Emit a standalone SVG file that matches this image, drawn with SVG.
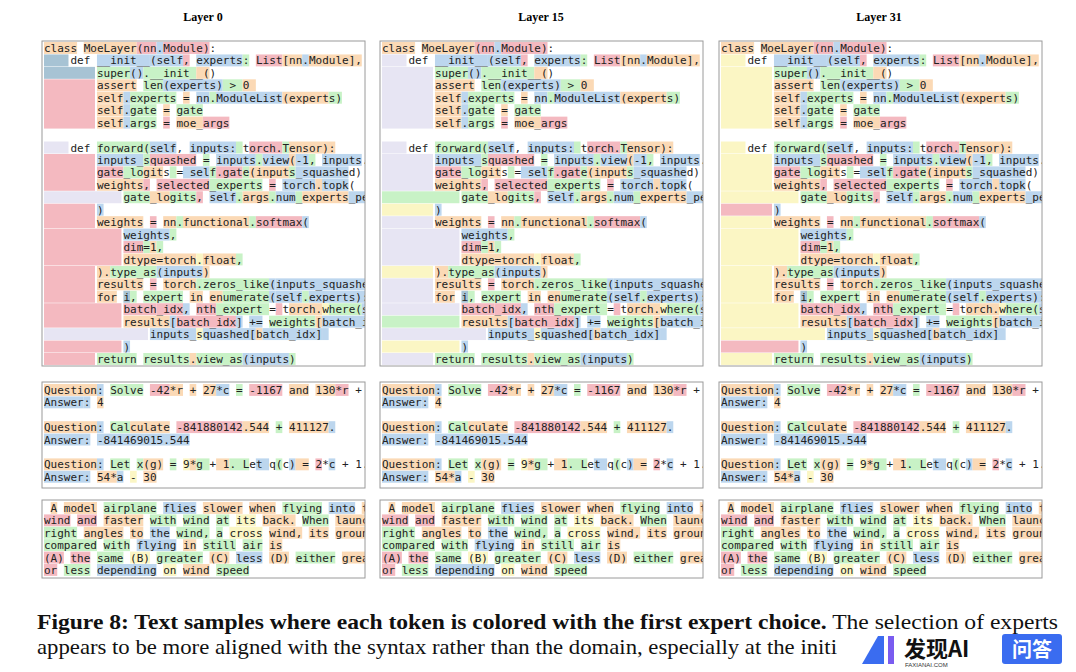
<svg xmlns="http://www.w3.org/2000/svg" width="1076" height="672" viewBox="0 0 1076 672">
<style>
.p{fill:#f4b9c0}.o{fill:#fbd9b5}.g{fill:#c8f2c6}.b{fill:#bcd6ee}.d{fill:#a7c3d4}.y{fill:#fbf6c4}.l{fill:#e7e5f3}
.t{font-family:"DejaVu Sans Mono",monospace;font-size:11px;fill:#222;white-space:pre}
.box{fill:none;stroke:#9a9a9a;stroke-width:1}
.ttl{font-family:"Liberation Serif",serif;font-weight:bold;font-size:12px;fill:#000;text-anchor:middle}
.cap{font-family:"Liberation Serif",serif;font-size:21px;fill:#111}
</style>
<defs>
<clipPath id="clip" clipPathUnits="userSpaceOnUse">
<rect x="0" y="41" width="323" height="325"/><rect x="0" y="382" width="323" height="106"/><rect x="0" y="500" width="323" height="78"/>
</clipPath>
<g id="code">
<g transform="translate(2,42) scale(6.62,12.44)">
<rect class="o" x="0" y="0" width="5" height=".96"/><rect class="o" x="6" y="0" width="8" height=".96"/><rect class="p" x="14" y="0" width="3" height=".96"/><rect class="b" x="17" y="0" width="1" height=".96"/><rect class="p" x="18" y="0" width="7" height=".96"/>
<rect class="b" x="8" y="1" width="8" height=".96"/><rect class="b" x="16" y="1" width="5" height=".96"/><rect class="p" x="21" y="1" width="1" height=".96"/><rect class="b" x="23" y="1" width="7" height=".96"/><rect class="g" x="30" y="1" width="1" height=".96"/><rect class="p" x="32" y="1" width="4" height=".96"/><rect class="o" x="36" y="1" width="3" height=".96"/><rect class="b" x="39" y="1" width="1" height=".96"/><rect class="o" x="40" y="1" width="8" height=".96"/>
<rect class="g" x="8" y="2" width="5" height=".96"/><rect class="b" x="13" y="2" width="2" height=".96"/><rect class="g" x="15" y="2" width="8" height=".96"/><rect class="o" x="23" y="2" width="2" height=".96"/>
<rect class="o" x="8" y="3" width="6" height=".96"/><rect class="g" x="15" y="3" width="3" height=".96"/><rect class="b" x="18" y="3" width="9" height=".96"/><rect class="g" x="27" y="3" width="3" height=".96"/><rect class="o" x="30" y="3" width="2" height=".96"/>
<rect class="o" x="8" y="4" width="4" height=".96"/><rect class="b" x="12" y="4" width="1" height=".96"/><rect class="g" x="13" y="4" width="7" height=".96"/><rect class="o" x="21" y="4" width="1" height=".96"/><rect class="b" x="23" y="4" width="2" height=".96"/><rect class="g" x="25" y="4" width="1" height=".96"/><rect class="b" x="26" y="4" width="10" height=".96"/><rect class="o" x="36" y="4" width="7" height=".96"/><rect class="g" x="43" y="4" width="2" height=".96"/>
<rect class="o" x="8" y="5" width="4" height=".96"/><rect class="b" x="12" y="5" width="1" height=".96"/><rect class="g" x="13" y="5" width="4" height=".96"/><rect class="o" x="18" y="5" width="1" height=".96"/><rect class="g" x="20" y="5" width="4" height=".96"/>
<rect class="o" x="8" y="6" width="4" height=".96"/><rect class="b" x="12" y="6" width="1" height=".96"/><rect class="g" x="13" y="6" width="4" height=".96"/><rect class="p" x="18" y="6" width="1" height=".96"/><rect class="o" x="20" y="6" width="4" height=".96"/><rect class="p" x="24" y="6" width="4" height=".96"/>
<rect class="g" x="8" y="8" width="8" height=".96"/><rect class="b" x="16" y="8" width="4" height=".96"/><rect class="b" x="22" y="8" width="7" height=".96"/><rect class="g" x="29" y="8" width="1" height=".96"/><rect class="p" x="31" y="8" width="5" height=".96"/><rect class="g" x="36" y="8" width="1" height=".96"/><rect class="o" x="37" y="8" width="7" height=".96"/>
<rect class="b" x="8" y="9" width="7" height=".96"/><rect class="g" x="15" y="9" width="1" height=".96"/><rect class="p" x="16" y="9" width="7" height=".96"/><rect class="g" x="24" y="9" width="1" height=".96"/><rect class="b" x="26" y="9" width="6" height=".96"/><rect class="g" x="32" y="9" width="1" height=".96"/><rect class="b" x="33" y="9" width="4" height=".96"/><rect class="o" x="37" y="9" width="1" height=".96"/><rect class="b" x="38" y="9" width="2" height=".96"/><rect class="g" x="40" y="9" width="1" height=".96"/><rect class="b" x="42" y="9" width="6" height=".96"/>
<rect class="p" x="8" y="10" width="4" height=".96"/><rect class="g" x="12" y="10" width="3" height=".96"/><rect class="o" x="15" y="10" width="3" height=".96"/><rect class="g" x="19" y="10" width="1" height=".96"/><rect class="b" x="21" y="10" width="4" height=".96"/><rect class="g" x="25" y="10" width="1" height=".96"/><rect class="p" x="26" y="10" width="4" height=".96"/><rect class="g" x="30" y="10" width="1" height=".96"/><rect class="o" x="31" y="10" width="6" height=".96"/><rect class="g" x="37" y="10" width="1" height=".96"/><rect class="b" x="38" y="10" width="8" height=".96"/>
<rect class="o" x="8" y="11" width="7" height=".96"/><rect class="p" x="15" y="11" width="1" height=".96"/><rect class="p" x="17" y="11" width="8" height=".96"/><rect class="g" x="25" y="11" width="8" height=".96"/><rect class="p" x="34" y="11" width="1" height=".96"/><rect class="b" x="36" y="11" width="5" height=".96"/><rect class="o" x="41" y="11" width="1" height=".96"/><rect class="b" x="42" y="11" width="4" height=".96"/>
<rect class="g" x="12" y="12" width="4" height=".96"/><rect class="o" x="16" y="12" width="3" height=".96"/><rect class="g" x="19" y="12" width="4" height=".96"/><rect class="p" x="23" y="12" width="1" height=".96"/><rect class="b" x="25" y="12" width="4" height=".96"/><rect class="g" x="29" y="12" width="1" height=".96"/><rect class="o" x="30" y="12" width="4" height=".96"/><rect class="g" x="34" y="12" width="1" height=".96"/><rect class="b" x="35" y="12" width="3" height=".96"/><rect class="g" x="38" y="12" width="1" height=".96"/><rect class="o" x="39" y="12" width="7" height=".96"/><rect class="b" x="46" y="12" width="4" height=".96"/>
<rect class="b" x="8" y="13" width="1" height=".96"/>
<rect class="o" x="8" y="14" width="7" height=".96"/><rect class="p" x="16" y="14" width="1" height=".96"/><rect class="o" x="18" y="14" width="2" height=".96"/><rect class="g" x="20" y="14" width="1" height=".96"/><rect class="o" x="21" y="14" width="10" height=".96"/><rect class="g" x="31" y="14" width="1" height=".96"/><rect class="p" x="32" y="14" width="7" height=".96"/><rect class="b" x="39" y="14" width="1" height=".96"/>
<rect class="b" x="12" y="15" width="7" height=".96"/><rect class="g" x="19" y="15" width="1" height=".96"/>
<rect class="p" x="12" y="16" width="3" height=".96"/><rect class="g" x="15" y="16" width="1" height=".96"/><rect class="o" x="16" y="16" width="1" height=".96"/><rect class="g" x="17" y="16" width="1" height=".96"/>
<rect class="o" x="12" y="17" width="6" height=".96"/><rect class="o" x="18" y="17" width="5" height=".96"/><rect class="y" x="23" y="17" width="1" height=".96"/><rect class="o" x="24" y="17" width="5" height=".96"/><rect class="g" x="29" y="17" width="1" height=".96"/>
<rect class="o" x="8" y="18" width="2" height=".96"/><rect class="g" x="10" y="18" width="7" height=".96"/><rect class="b" x="17" y="18" width="1" height=".96"/><rect class="b" x="18" y="18" width="6" height=".96"/><rect class="o" x="24" y="18" width="1" height=".96"/>
<rect class="o" x="8" y="19" width="7" height=".96"/><rect class="p" x="16" y="19" width="1" height=".96"/><rect class="o" x="18" y="19" width="5" height=".96"/><rect class="g" x="23" y="19" width="1" height=".96"/><rect class="g" x="24" y="19" width="10" height=".96"/><rect class="b" x="34" y="19" width="1" height=".96"/><rect class="b" x="35" y="19" width="15" height=".96"/>
<rect class="o" x="8" y="20" width="3" height=".96"/><rect class="d" x="12" y="20" width="1" height=".96"/><rect class="g" x="13" y="20" width="1" height=".96"/><rect class="g" x="15" y="20" width="6" height=".96"/><rect class="o" x="22" y="20" width="2" height=".96"/><rect class="o" x="25" y="20" width="2" height=".96"/><rect class="g" x="27" y="20" width="7" height=".96"/><rect class="b" x="34" y="20" width="1" height=".96"/><rect class="b" x="35" y="20" width="4" height=".96"/><rect class="g" x="39" y="20" width="1" height=".96"/><rect class="b" x="40" y="20" width="9" height=".96"/>
<rect class="p" x="12" y="21" width="5" height=".96"/><rect class="p" x="17" y="21" width="4" height=".96"/><rect class="b" x="21" y="21" width="1" height=".96"/><rect class="p" x="23" y="21" width="3" height=".96"/><rect class="g" x="26" y="21" width="8" height=".96"/><rect class="p" x="35" y="21" width="1" height=".96"/><rect class="o" x="37" y="21" width="5" height=".96"/><rect class="y" x="42" y="21" width="1" height=".96"/><rect class="g" x="43" y="21" width="5" height=".96"/><rect class="b" x="48" y="21" width="1" height=".96"/>
<rect class="o" x="12" y="22" width="7" height=".96"/><rect class="b" x="19" y="22" width="1" height=".96"/><rect class="p" x="20" y="22" width="9" height=".96"/><rect class="b" x="29" y="22" width="1" height=".96"/><rect class="b" x="31" y="22" width="2" height=".96"/><rect class="g" x="34" y="22" width="7" height=".96"/><rect class="o" x="41" y="22" width="1" height=".96"/><rect class="b" x="42" y="22" width="9" height=".96"/>
<rect class="b" x="16" y="23" width="7" height=".96"/><rect class="y" x="23" y="23" width="1" height=".96"/><rect class="b" x="24" y="23" width="8" height=".96"/><rect class="o" x="32" y="23" width="1" height=".96"/><rect class="b" x="33" y="23" width="9" height=".96"/><rect class="b" x="42" y="23" width="1" height=".96"/>
<rect class="b" x="12" y="24" width="1" height=".96"/>
<rect class="g" x="8" y="25" width="6" height=".96"/><rect class="g" x="15" y="25" width="7" height=".96"/><rect class="o" x="22" y="25" width="1" height=".96"/><rect class="g" x="23" y="25" width="7" height=".96"/><rect class="b" x="30" y="25" width="1" height=".96"/><rect class="b" x="31" y="25" width="6" height=".96"/><rect class="g" x="37" y="25" width="1" height=".96"/>
</g>
<text class="t" x="2" y="52">class MoeLayer(nn.Module):</text>
<text class="t" x="2" y="64.4">    def __init__(self, experts: List[nn.Module], gate: nn.Module, moe_args):</text>
<text class="t" x="2" y="76.9">        super().__init__()</text>
<text class="t" x="2" y="89.3">        assert len(experts) &gt; 0</text>
<text class="t" x="2" y="101.8">        self.experts = nn.ModuleList(experts)</text>
<text class="t" x="2" y="114.2">        self.gate = gate</text>
<text class="t" x="2" y="126.6">        self.args = moe_args</text>
<text class="t" x="2" y="151.5">    def forward(self, inputs: torch.Tensor):</text>
<text class="t" x="2" y="164">        inputs_squashed = inputs.view(-1, inputs.shape[-1])</text>
<text class="t" x="2" y="176.4">        gate_logits = self.gate(inputs_squashed)</text>
<text class="t" x="2" y="188.8">        weights, selected_experts = torch.topk(</text>
<text class="t" x="2" y="201.3">            gate_logits, self.args.num_experts_per_tok</text>
<text class="t" x="2" y="213.7">        )</text>
<text class="t" x="2" y="226.2">        weights = nn.functional.softmax(</text>
<text class="t" x="2" y="238.6">            weights,</text>
<text class="t" x="2" y="251">            dim=1,</text>
<text class="t" x="2" y="263.5">            dtype=torch.float,</text>
<text class="t" x="2" y="275.9">        ).type_as(inputs)</text>
<text class="t" x="2" y="288.4">        results = torch.zeros_like(inputs_squashed)</text>
<text class="t" x="2" y="300.8">        for i, expert in enumerate(self.experts):</text>
<text class="t" x="2" y="313.2">            batch_idx, nth_expert = torch.where(selected_experts == i)</text>
<text class="t" x="2" y="325.7">            results[batch_idx] += weights[batch_idx, nth_expert, None] * expert(</text>
<text class="t" x="2" y="338.1">                inputs_squashed[batch_idx]</text>
<text class="t" x="2" y="350.6">            )</text>
<text class="t" x="2" y="363">        return results.view_as(inputs)</text>
</g>
<g id="math">
<g transform="translate(2,384) scale(6.62,12.4)">
<rect class="o" x="0" y="0" width="8" height=".96"/><rect class="b" x="8" y="0" width="1" height=".96"/><rect class="g" x="10" y="0" width="5" height=".96"/><rect class="p" x="16" y="0" width="3" height=".96"/><rect class="o" x="19" y="0" width="2" height=".96"/><rect class="o" x="22" y="0" width="1" height=".96"/><rect class="o" x="24" y="0" width="2" height=".96"/><rect class="b" x="26" y="0" width="2" height=".96"/><rect class="g" x="29" y="0" width="1" height=".96"/><rect class="p" x="31" y="0" width="5" height=".96"/><rect class="o" x="37" y="0" width="3" height=".96"/><rect class="o" x="41" y="0" width="3" height=".96"/><rect class="p" x="44" y="0" width="2" height=".96"/>
<rect class="b" x="0" y="1" width="6" height=".96"/><rect class="b" x="6" y="1" width="1" height=".96"/><rect class="o" x="8" y="1" width="1" height=".96"/>
<rect class="o" x="0" y="3" width="8" height=".96"/><rect class="b" x="8" y="3" width="1" height=".96"/><rect class="g" x="10" y="3" width="3" height=".96"/><rect class="o" x="13" y="3" width="6" height=".96"/><rect class="p" x="20" y="3" width="10" height=".96"/><rect class="o" x="30" y="3" width="4" height=".96"/><rect class="g" x="35" y="3" width="1" height=".96"/><rect class="o" x="37" y="3" width="6" height=".96"/><rect class="b" x="43" y="3" width="1" height=".96"/>
<rect class="b" x="0" y="4" width="7" height=".96"/><rect class="b" x="8" y="4" width="14" height=".96"/>
<rect class="o" x="0" y="6" width="8" height=".96"/><rect class="b" x="8" y="6" width="1" height=".96"/><rect class="g" x="10" y="6" width="3" height=".96"/><rect class="g" x="14" y="6" width="1" height=".96"/><rect class="o" x="15" y="6" width="3" height=".96"/><rect class="g" x="19" y="6" width="1" height=".96"/><rect class="y" x="21" y="6" width="1" height=".96"/><rect class="o" x="22" y="6" width="1" height=".96"/><rect class="g" x="23" y="6" width="2" height=".96"/><rect class="o" x="26" y="6" width="2" height=".96"/><rect class="g" x="28" y="6" width="3" height=".96"/><rect class="b" x="32" y="6" width="2" height=".96"/><rect class="g" x="35" y="6" width="1" height=".96"/><rect class="b" x="37" y="6" width="1" height=".96"/><rect class="o" x="38" y="6" width="2" height=".96"/><rect class="p" x="41" y="6" width="1" height=".96"/><rect class="b" x="43" y="6" width="1" height=".96"/>
<rect class="b" x="0" y="7" width="7" height=".96"/><rect class="o" x="8" y="7" width="3" height=".96"/><rect class="b" x="11" y="7" width="1" height=".96"/><rect class="y" x="13" y="7" width="1" height=".96"/><rect class="o" x="15" y="7" width="2" height=".96"/>
</g>
<text class="t" x="2" y="394">Question: Solve -42*r + 27*c = -1167 and 130*r + 4*c = 372 for r.</text>
<text class="t" x="2" y="406.4">Answer: 4</text>
<text class="t" x="2" y="431.2">Question: Calculate -841880142.544 + 411127.</text>
<text class="t" x="2" y="443.6">Answer: -841469015.544</text>
<text class="t" x="2" y="468.4">Question: Let x(g) = 9*g + 1. Let q(c) = 2*c + 1.</text>
<text class="t" x="2" y="480.8">Answer: 54*a - 30</text>
</g>
<g id="prose">
<g transform="translate(2,502) scale(6.62,12.4)">
<rect class="o" x="1" y="0" width="1" height=".96"/><rect class="o" x="3" y="0" width="5" height=".96"/><rect class="g" x="9" y="0" width="8" height=".96"/><rect class="b" x="18" y="0" width="5" height=".96"/><rect class="o" x="24" y="0" width="6" height=".96"/><rect class="o" x="31" y="0" width="4" height=".96"/><rect class="g" x="36" y="0" width="6" height=".96"/><rect class="b" x="43" y="0" width="4" height=".96"/><rect class="o" x="48" y="0" width="3" height=".96"/>
<rect class="p" x="0" y="1" width="4" height=".96"/><rect class="p" x="5" y="1" width="3" height=".96"/><rect class="o" x="9" y="1" width="6" height=".96"/><rect class="g" x="16" y="1" width="4" height=".96"/><rect class="g" x="21" y="1" width="4" height=".96"/><rect class="g" x="26" y="1" width="2" height=".96"/><rect class="y" x="29" y="1" width="3" height=".96"/><rect class="o" x="33" y="1" width="5" height=".96"/><rect class="g" x="39" y="1" width="4" height=".96"/><rect class="o" x="44" y="1" width="7" height=".96"/>
<rect class="g" x="0" y="2" width="5" height=".96"/><rect class="o" x="6" y="2" width="6" height=".96"/><rect class="o" x="13" y="2" width="2" height=".96"/><rect class="b" x="16" y="2" width="3" height=".96"/><rect class="g" x="20" y="2" width="5" height=".96"/><rect class="g" x="26" y="2" width="1" height=".96"/><rect class="y" x="28" y="2" width="5" height=".96"/><rect class="o" x="34" y="2" width="5" height=".96"/><rect class="o" x="40" y="2" width="3" height=".96"/><rect class="o" x="44" y="2" width="6" height=".96"/><rect class="g" x="51" y="2" width="5" height=".96"/>
<rect class="g" x="0" y="3" width="8" height=".96"/><rect class="g" x="9" y="3" width="4" height=".96"/><rect class="b" x="14" y="3" width="6" height=".96"/><rect class="o" x="21" y="3" width="2" height=".96"/><rect class="g" x="24" y="3" width="5" height=".96"/><rect class="g" x="30" y="3" width="3" height=".96"/><rect class="o" x="34" y="3" width="2" height=".96"/>
<rect class="p" x="0" y="4" width="3" height=".96"/><rect class="p" x="4" y="4" width="3" height=".96"/><rect class="g" x="8" y="4" width="4" height=".96"/><rect class="y" x="13" y="4" width="3" height=".96"/><rect class="g" x="17" y="4" width="7" height=".96"/><rect class="o" x="25" y="4" width="3" height=".96"/><rect class="b" x="29" y="4" width="4" height=".96"/><rect class="o" x="34" y="4" width="3" height=".96"/><rect class="g" x="38" y="4" width="6" height=".96"/><rect class="o" x="45" y="4" width="7" height=".96"/>
<rect class="p" x="0" y="5" width="2" height=".96"/><rect class="g" x="3" y="5" width="4" height=".96"/><rect class="b" x="8" y="5" width="9" height=".96"/><rect class="y" x="18" y="5" width="2" height=".96"/><rect class="o" x="21" y="5" width="4" height=".96"/><rect class="g" x="26" y="5" width="5" height=".96"/>
</g>
<text class="t" x="2" y="512"> A model airplane flies slower when flying into the wind</text>
<text class="t" x="2" y="524.4">wind and faster with wind at its back. When launched at</text>
<text class="t" x="2" y="536.8">right angles to the wind, a cross wind, its ground speed</text>
<text class="t" x="2" y="549.2">compared with flying in still air is</text>
<text class="t" x="2" y="561.6">(A) the same (B) greater (C) less (D) either greater</text>
<text class="t" x="2" y="574">or less depending on wind speed</text>
</g>
<g id="frames">
<rect class="box" x="0" y="41" width="323" height="325"/><rect class="box" x="0" y="382" width="323" height="106"/><rect class="box" x="0" y="500" width="323" height="78"/>
</g>
</defs>
<rect width="1076" height="672" fill="#fff"/>
<g id="titles">
<text class="ttl" x="203" y="21">Layer 0</text>
<text class="ttl" x="541" y="21">Layer 15</text>
<text class="ttl" x="879" y="21">Layer 31</text>
</g>
<g id="panel-layer0" transform="translate(42,0)">
<g clip-path="url(#clip)">
<g transform="translate(2,42) scale(6.62,12.44)">
<rect class="d" x="0" y="1" width="3.7" height=".96"/><rect class="d" x="0" y="2" width="7.7" height=".96"/>
<rect class="p" x="0" y="3" width="7.7" height="3.96"/>
<rect class="l" x="0" y="8" width="3.7" height=".96"/>
<rect class="p" x="0" y="9" width="7.7" height="2.96"/><rect class="l" x="0" y="12" width="11.7" height=".96"/>
<rect class="p" x="0" y="13" width="7.7" height="1.96"/><rect class="p" x="0" y="15" width="11.7" height="2.96"/>
<rect class="p" x="0" y="18" width="7.7" height="2.96"/><rect class="p" x="0" y="21" width="11.7" height="1.96"/>
<rect class="l" x="0" y="23" width="15.7" height=".96"/><rect class="p" x="0" y="24" width="11.7" height=".96"/><rect class="p" x="0" y="25" width="7.7" height=".96"/>
</g>
<use href="#code"/><use href="#math"/><use href="#prose"/>
</g>
<use href="#frames"/>
</g>
<g id="panel-layer15" transform="translate(380,0)">
<g clip-path="url(#clip)">
<g transform="translate(2,42) scale(6.62,12.44)">
<rect class="l" x="0" y="1" width="3.7" height=".96"/><rect class="l" x="0" y="2" width="7.7" height="4.96"/>
<rect class="l" x="0" y="8" width="3.7" height=".96"/>
<rect class="l" x="0" y="9" width="7.7" height="2.96"/><rect class="g" x="0" y="12" width="11.7" height=".96"/>
<rect class="y" x="0" y="13" width="7.7" height=".96"/><rect class="l" x="0" y="14" width="7.7" height=".96"/><rect class="l" x="0" y="15" width="11.7" height="2.96"/>
<rect class="y" x="0" y="18" width="7.7" height=".96"/><rect class="l" x="0" y="19" width="7.7" height="1.96"/><rect class="l" x="0" y="21" width="11.7" height=".96"/><rect class="g" x="0" y="22" width="11.7" height=".96"/>
<rect class="l" x="0" y="23" width="15.7" height=".96"/><rect class="y" x="0" y="24" width="11.7" height=".96"/><rect class="l" x="0" y="25" width="7.7" height=".96"/>
</g>
<use href="#code"/><use href="#math"/><use href="#prose"/>
</g>
<use href="#frames"/>
</g>
<g id="panel-layer31" transform="translate(719,0)">
<g clip-path="url(#clip)">
<g transform="translate(2,42) scale(6.62,12.44)">
<rect class="y" x="0" y="1" width="3.7" height=".96"/><rect class="y" x="0" y="2" width="7.7" height="4.96"/>
<rect class="y" x="0" y="8" width="3.7" height=".96"/>
<rect class="y" x="0" y="9" width="7.7" height="2.96"/><rect class="y" x="0" y="12" width="11.7" height=".96"/>
<rect class="p" x="0" y="13" width="7.7" height=".96"/><rect class="y" x="0" y="14" width="7.7" height=".96"/><rect class="y" x="0" y="15" width="11.7" height="2.96"/>
<rect class="y" x="0" y="18" width="7.7" height="2.96"/><rect class="y" x="0" y="21" width="11.7" height="1.96"/>
<rect class="y" x="0" y="23" width="15.7" height=".96"/><rect class="p" x="0" y="24" width="11.7" height=".96"/><rect class="y" x="0" y="25" width="7.7" height=".96"/>
</g>
<use href="#code"/><use href="#math"/><use href="#prose"/>
</g>
<use href="#frames"/>
</g>
<g id="caption">
<text class="cap" x="37" y="629" textLength="1021" lengthAdjust="spacingAndGlyphs"><tspan font-weight="bold">Figure 8: Text samples where each token is colored with the first expert choice.</tspan> The selection of experts</text>
<text class="cap" x="37" y="654" textLength="800" lengthAdjust="spacingAndGlyphs">appears to be more aligned with the syntax rather than the domain, especially at the initi</text>
</g>
<g id="watermark">
<rect x="856" y="634" width="220" height="38" fill="#fff"/>
<path d="M862 664 L878 636 L884 636 L884 664 Z" fill="#3a6cf0"/>
<rect x="888" y="636" width="6" height="28" fill="#7a5cf0"/>
<text x="904" y="657" font-family="'Noto Sans CJK SC','Noto Sans',sans-serif" font-weight="bold" font-size="22" fill="#111">发现AI</text>
<text x="905" y="667" font-family="'Liberation Sans',sans-serif" font-size="6" fill="#333">FAXIANAI.COM</text>
<rect x="1002" y="634" width="60" height="30" rx="3" fill="#3a6cf0"/>
<text x="1032" y="657" text-anchor="middle" font-family="'Noto Sans CJK SC',sans-serif" font-weight="bold" font-size="20" fill="#fff">问答</text>
</g>
</svg>
